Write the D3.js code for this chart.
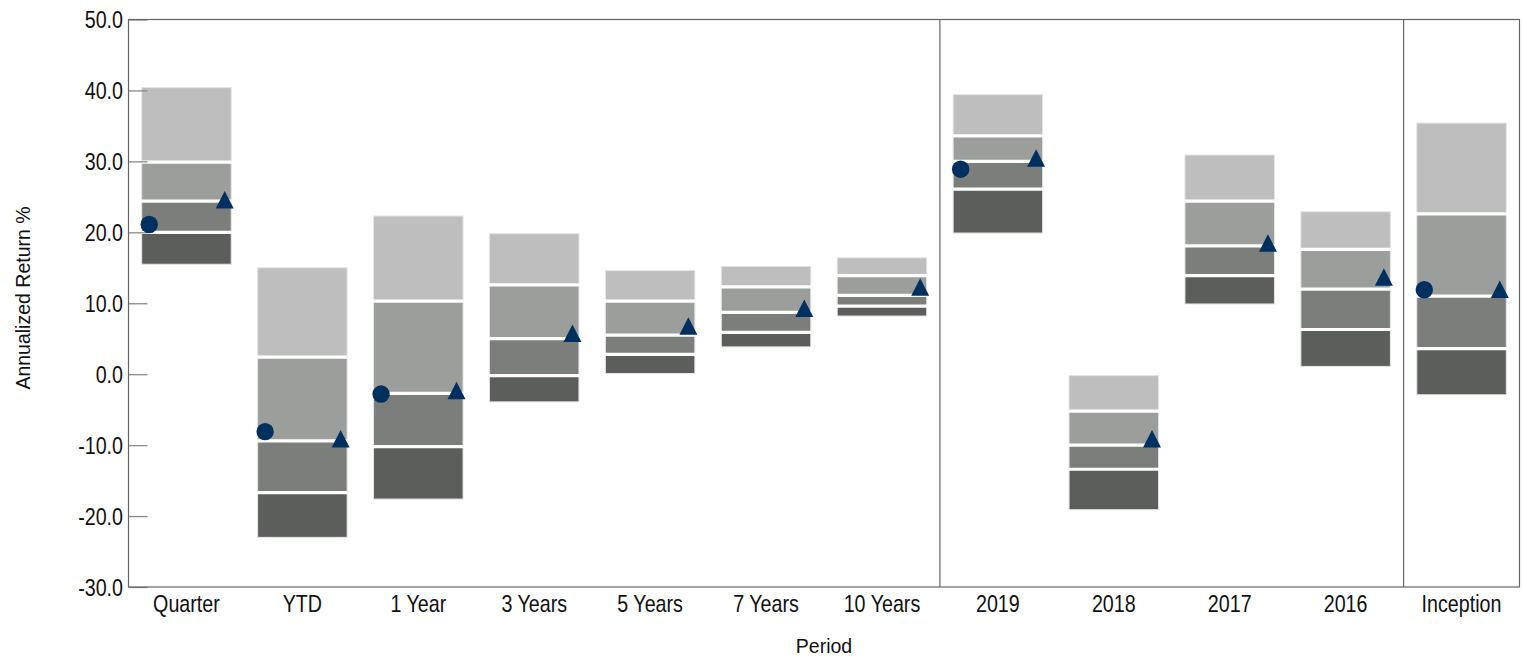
<!DOCTYPE html>
<html>
<head>
<meta charset="utf-8">
<script src="https://cdn.jsdelivr.net/npm/d3@7"></script>
<style>
  html, body { margin: 0; padding: 0; background: #fff; }
  svg { display: block; }
</style>
</head>
<body>
<svg id="chart" width="1522" height="658"></svg>
<script>
// ---- data ----
const categories = ["Quarter", "YTD", "1 Year", "3 Years", "5 Years", "7 Years", "10 Years", "2019", "2018", "2017", "2016", "Inception"];
const pct5  = [40.4, 15.0, 22.3, 19.8, 14.6, 15.2, 16.4, 39.4, -0.2, 30.9, 22.9, 35.4];
const pct25 = [29.9,  2.4, 10.3, 12.6, 10.3, 12.3, 13.9, 33.6, -5.2, 24.4, 17.6, 22.6];
const median= [24.4, -9.4, -2.7,  5.0,  5.5,  8.7, 11.1, 30.0, -10.0, 18.1, 12.0, 11.0];
const pct75 = [20.0, -16.7, -10.2, -0.2, 2.8,  5.9,  9.6, 26.1, -13.4, 13.9,  6.3,  3.6];
const pct95 = [15.5, -23.0, -17.6, -3.9, 0.1,  3.85, 8.2, 19.9, -19.1,  9.9,  1.1, -2.9];
const portfolio = [21.1, -8.1, -2.8, null, null, null, null, 28.9, null, null, null, 11.9];
const benchmark = [24.2, -9.5, -2.7, 5.4, 6.4, 8.9, 11.9, 30.1, -9.5, 18.1, 13.3, 11.6];
const yTicks = [-30, -20, -10, 0, 10, 20, 30, 40, 50];
const groupBreaks = ["2019", "Inception"];

// ---- layout ----
const svg = d3.select("#chart");
const pLeft = 128.5, pRight = 1519.5, pTop = 19.5, pBottom = 587;
const x = d3.scaleBand().domain(categories).range([pLeft, pRight]).paddingInner(0.228).paddingOuter(0.114);
const y = d3.scaleLinear().domain([-30, 50]).range([pBottom, pTop]);

const shades = ["#bebebe", "#9c9e9b", "#7c7e7b", "#5c5e5b"];
const navy = "#00305f";
const fontReg = "'Liberation Sans', Arial, sans-serif";
const narrow = 0.82;
const fmt = v => d3.format(".1f")(v).replace("\u2212", "-");

// segments
const segs = [];
categories.forEach((c, i) => {
  const b = [pct5[i], pct25[i], median[i], pct75[i], pct95[i]];
  for (let k = 0; k < 4; k++) segs.push({c, hi: b[k], lo: b[k + 1], k});
});
svg.append("g").selectAll("rect").data(segs).join("rect")
  .attr("x", d => x(d.c))
  .attr("width", x.bandwidth())
  .attr("y", d => y(d.hi))
  .attr("height", d => y(d.lo) - y(d.hi))
  .attr("fill", d => shades[d.k])
  .attr("stroke", "#e4e4e4")
  .attr("stroke-width", 1);

// white separators at internal boundaries
const seps = [];
categories.forEach((c, i) => { [pct25[i], median[i], pct75[i]].forEach(v => seps.push({c, v})); });
svg.append("g").selectAll("line").data(seps).join("line")
  .attr("x1", d => x(d.c) - 0.5).attr("x2", d => x(d.c) + x.bandwidth() + 0.5)
  .attr("y1", d => y(d.v)).attr("y2", d => y(d.v))
  .attr("stroke", "#fff").attr("stroke-width", 3.2);

// y axis
const yAxis = d3.axisLeft(y).tickValues(yTicks).tickSize(-19).tickPadding(5).tickFormat(fmt);
const gy = svg.append("g").attr("transform", `translate(${pLeft},0)`).call(yAxis);
gy.select(".domain").remove();
gy.selectAll(".tick line").attr("stroke", "#8a8a8a").attr("stroke-width", 1.3);
gy.selectAll(".tick text")
  .attr("font-family", fontReg).attr("font-size", 24).attr("fill", "#111").attr("dy", "0.34em")
  .attr("x", -5.5 / narrow)
  .attr("transform", `scale(${narrow},1)`);

// x axis labels
const xAxis = d3.axisBottom(x).tickSize(0).tickPadding(8);
const gx = svg.append("g").attr("transform", `translate(0,${pBottom})`).call(xAxis);
gx.select(".domain").remove();
gx.selectAll(".tick text")
  .attr("font-family", fontReg).attr("font-size", 24).attr("fill", "#111")
  .attr("transform", `scale(${narrow},1)`);

// frame
svg.append("rect").attr("x", pLeft).attr("y", pTop).attr("width", pRight - pLeft).attr("height", pBottom - pTop)
  .attr("fill", "none").attr("stroke", "#666").attr("stroke-width", 1.2);

// group separators
const step = x.step();
svg.append("g").selectAll("line").data(groupBreaks).join("line")
  .attr("x1", d => x(d) - step * x.paddingInner() / 2)
  .attr("x2", d => x(d) - step * x.paddingInner() / 2)
  .attr("y1", pTop).attr("y2", pBottom)
  .attr("stroke", "#666").attr("stroke-width", 1.2);

// markers
const circ = categories.map((c, i) => ({c, v: portfolio[i]})).filter(d => d.v !== null);
svg.append("g").selectAll("circle").data(circ).join("circle")
  .attr("cx", d => x(d.c) + 7.5).attr("cy", d => y(d.v)).attr("r", 8.7).attr("fill", navy);

const tri = categories.map((c, i) => ({c, v: benchmark[i]})).filter(d => d.v !== null);
svg.append("g").selectAll("path").data(tri).join("path")
  .attr("d", d => {
    const cx = x(d.c) + x.bandwidth() - 6.5, cy = y(d.v);
    return `M${cx},${cy - 11.5}L${cx + 9},${cy + 6}L${cx - 9},${cy + 6}Z`;
  })
  .attr("fill", navy);

// axis titles
svg.append("text").attr("transform", `translate(30,298) rotate(-90)`)
  .attr("text-anchor", "middle").attr("font-family", fontReg).attr("font-size", 19.5).attr("fill", "#111")
  .text("Annualized Return %");
svg.append("text").attr("x", (pLeft + pRight) / 2).attr("y", 653)
  .attr("text-anchor", "middle").attr("font-family", fontReg).attr("font-size", 19.5).attr("fill", "#111")
  .text("Period");
</script>
</body>
</html>
